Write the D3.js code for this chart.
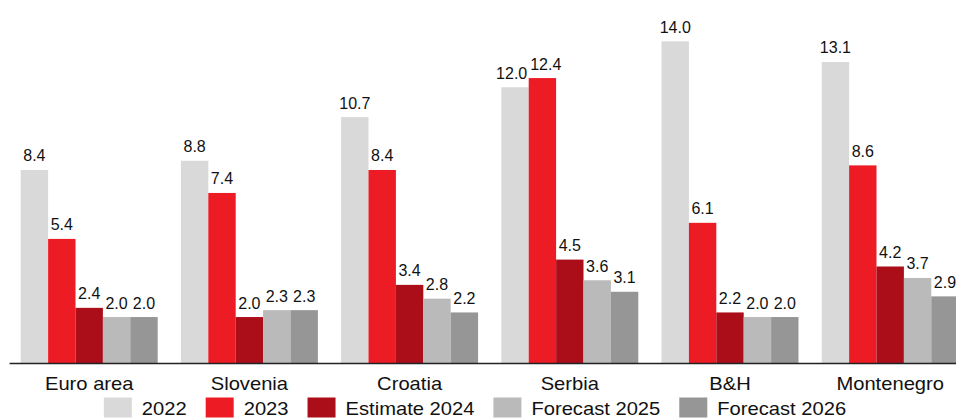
<!DOCTYPE html>
<html>
<head>
<meta charset="utf-8">
<script src="https://cdn.jsdelivr.net/npm/d3@7"></script>
<style>
  html, body { margin: 0; padding: 0; background: #fff; }
  svg { display: block; font-family: "Liberation Sans", Arial, sans-serif; }
</style>
</head>
<body>
<svg id="chart" width="956" height="418"></svg>
<script>
// Inflation by country, % (2022–2026)
const countries = ["Euro area", "Slovenia", "Croatia", "Serbia", "B&H", "Montenegro"];
const seriesNames = ["2022", "2023", "Estimate 2024", "Forecast 2025", "Forecast 2026"];
const seriesColors = ["#d9d9d9", "#ed1c24", "#ab0e19", "#bababa", "#969696"];
const values2022 = [8.4, 8.8, 10.7, 12.0, 14.0, 13.1];
const values2023 = [5.4, 7.4, 8.4, 12.4, 6.1, 8.6];
const values2024 = [2.4, 2.0, 3.4, 4.5, 2.2, 4.2];
const values2025 = [2.0, 2.3, 2.8, 3.6, 2.0, 3.7];
const values2026 = [2.0, 2.3, 2.2, 3.1, 2.0, 2.9];
const yMax = 14;

const seriesValues = [values2022, values2023, values2024, values2025, values2026];
const rows = countries.map((c, i) => ({
  country: c,
  vals: seriesNames.map((s, k) => ({ key: s, value: seriesValues[k][i], color: seriesColors[k] }))
}));

const svg = d3.select("#chart");
const baseY = 363, topY = 41.3;
const stretch = "scale(1.12,1)";

const x = d3.scaleBand()
  .domain(countries)
  .range([9.1, 970.3])
  .paddingInner(0.145)
  .paddingOuter(0.0725);

const xs = d3.scaleBand()
  .domain(seriesNames)
  .range([0, x.bandwidth()])
  .padding(0);

const y = d3.scaleLinear().domain([0, yMax]).range([baseY, topY]);

const groups = svg.append("g").selectAll("g")
  .data(rows)
  .join("g")
  .attr("transform", d => `translate(${x(d.country)},0)`);

groups.selectAll("rect")
  .data(d => d.vals)
  .join("rect")
  .attr("x", d => xs(d.key))
  .attr("y", d => y(d.value))
  .attr("width", xs.bandwidth())
  .attr("height", d => y(0) - y(d.value))
  .attr("fill", d => d.color);

// Value labels above each bar
groups.each(function (row) {
  const g = d3.select(this);
  const labels = g.selectAll("text.val")
    .data(row.vals)
    .join("text")
    .attr("class", "val")
    .attr("text-anchor", "middle")
    .attr("font-size", 16)
    .attr("fill", "#111")
    .attr("y", d => y(d.value) - 8.5)
    .text(d => d3.format(".1f")(d.value));

  // centre on the bar, then push apart neighbours at a similar height that collide
  const items = [];
  labels.each(function (d) {
    items.push({ d, node: this, cx: xs(d.key) + xs.bandwidth() / 2, w: this.getComputedTextLength(), y: y(d.value) });
  });
  for (let i = 1; i < items.length; i++) {
    const a = items[i - 1], b = items[i];
    if (Math.abs(a.y - b.y) > 14) continue;
    const overlap = (a.cx + a.w / 2 + 3) - (b.cx - b.w / 2);
    if (overlap > 0) { a.cx -= overlap / 2; b.cx += overlap / 2; }
  }
  items.forEach(it => d3.select(it.node).attr("x", it.cx));
});

// Category axis
const axis = svg.append("g")
  .attr("transform", `translate(0,${baseY})`)
  .call(d3.axisBottom(x).tickSize(0).tickPadding(14));
axis.select(".domain").attr("stroke", "#222").attr("stroke-width", 1.6);
axis.selectAll(".tick text")
  .attr("transform", stretch)
  .attr("font-size", 18)
  .attr("font-family", "\"Liberation Sans\", Arial, sans-serif")
  .attr("fill", "#111");

// Legend
const legend = svg.append("g");
const items = legend.selectAll("g")
  .data(seriesNames.map((s, k) => ({ name: s, color: seriesColors[k] })))
  .join("g");
items.append("rect")
  .attr("width", 28).attr("height", 20)
  .attr("y", 397.5)
  .attr("fill", d => d.color);
items.append("g")
  .attr("transform", "translate(38,414.5)")
  .append("text")
  .attr("transform", stretch)
  .attr("font-size", 18)
  .attr("fill", "#111")
  .text(d => d.name);

let cursor = 0;
const widths = [];
items.each(function () {
  const t = d3.select(this).select("text").node();
  widths.push(t.getComputedTextLength() * 1.12);
});
const gap = 19;
const positions = widths.map(w => { const p = cursor; cursor += 38 + w + gap; return p; });
const total = cursor - gap;
const startX = 475 - total / 2;
items.attr("transform", (d, i) => `translate(${startX + positions[i]},0)`);
</script>
</body>
</html>
